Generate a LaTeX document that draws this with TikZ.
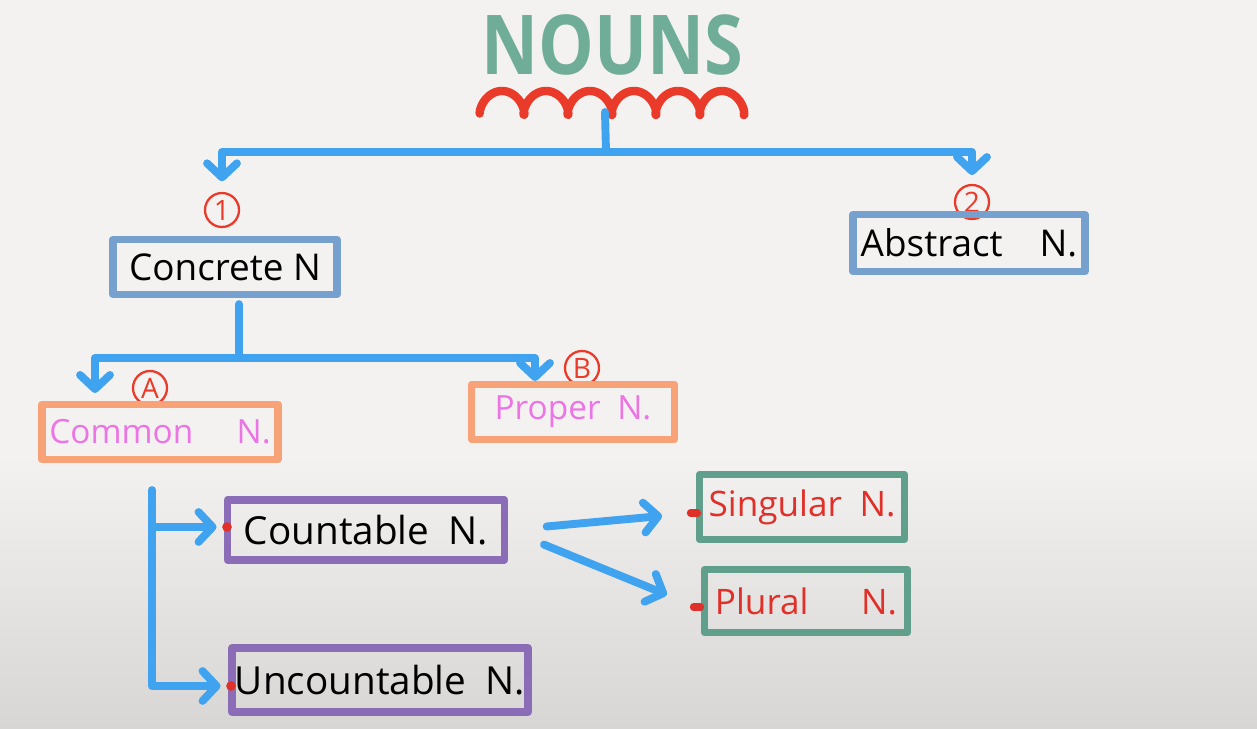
\documentclass[tikz,border=0pt]{standalone}
\usepackage{fontspec}
\usepackage{graphicx}
\setmainfont{Open Sans}
\usetikzlibrary{arrows.meta}
\definecolor{bg}{HTML}{F4F2F0}
\definecolor{bgd}{HTML}{D8D6D4}
\definecolor{tealt}{HTML}{6FAD99}
\definecolor{wavered}{HTML}{EA3A2A}
\definecolor{lblue}{HTML}{3FA3F0}
\definecolor{steel}{HTML}{76A1CE}
\definecolor{orng}{HTML}{F7A277}
\definecolor{mag}{HTML}{EC74E4}
\definecolor{purp}{HTML}{8B6DB7}
\definecolor{grn}{HTML}{5F9F8B}
\definecolor{txtred}{HTML}{E0302A}
\begin{document}
\begin{tikzpicture}[x=0.02cm,y=-0.02cm,
  conn/.style={draw=lblue, line width=4.5pt, line cap=round, line join=round},
  arr/.style={conn, -{Straight Barb[length=8pt,width=17pt,round]}},
  box/.style={draw, line width=4.2pt, inner sep=0pt, line join=round},
  circ/.style={circle, draw=wavered, line width=1.3pt, text=wavered, inner sep=0pt,
    minimum size=0.68cm, font=\fontsize{16}{16}\selectfont},
  reddot/.style={circle, fill=txtred, inner sep=0pt, minimum size=5.5pt},
  reddash/.style={rectangle, rounded corners=2pt, fill=txtred, inner sep=0pt, minimum width=8pt, minimum height=4.5pt}
]
% background
\fill[bg] (0,0) rectangle (1257,729);
\shade[top color=bg, bottom color=bgd] (0,455) rectangle (1257,729);
\useasboundingbox (0,0) rectangle (1257,729);

% title
\node[text=tealt, font=\fontsize{47}{47}\selectfont\bfseries] (title) at (612,45) {\scalebox{0.85}[1]{NOUNS}};
\draw[wavered, line width=4.8pt, line cap=round, line join=round]
  plot[domain=0.5:37.9, samples=400, variable=\t] ({480 + 7*\t - 8*sin(\t r)}, {103 + 12*cos(\t r)});
\coordinate (w) at (605,112);
\coordinate (j1) at (606,152);

% level 1
\node[circ] (c1) at (222,210) {1};
\node[circ] (c2) at (972,202) {2};
\node[box, draw=steel, minimum width=4.48cm, minimum height=1.10cm,
  font=\fontsize{21}{21}\selectfont] (concrete) at (225,267) {Concrete N};
\node[box, draw=steel, minimum width=4.64cm, minimum height=1.14cm,
  font=\fontsize{21}{21}\selectfont] (abstract) at (969,243) {Abstract\quad N.};

\draw[conn] (w) -- (j1);
\draw[arr, shorten >=6pt] (j1) -| (c1);
\draw[arr, shorten >=5pt] (j1) -| (c2);

% level 2
\node[circ] (cA) at (150,388) {A};
\node[circ] (cB) at (582,368) {B};
\node[box, draw=orng, text=mag, minimum width=4.72cm, minimum height=1.10cm,
  font=\fontsize{19}{19}\selectfont] (common) at (160,432) {Common\hspace{1.3em}N.};
\node[box, draw=orng, text=mag, minimum width=4.06cm, minimum height=1.10cm,
  font=\fontsize{19}{19}\selectfont] (proper) at (573,412) {Proper\enspace N.};
\coordinate (j2) at (239,358);
\coordinate (aA) at (95,393);
\coordinate (aB) at (535,381);
\draw[conn] (j2 |- concrete.south) ++(0,6) -- (j2);
\draw[arr] (j2) -| (aA);
\draw[arr] (j2) -| (aB);

% level 3
\node[box, draw=purp, minimum width=5.54cm, minimum height=1.20cm,
  font=\fontsize{22}{22}\selectfont] (countable) at (366,530) {Countable\enspace N.};
\node[box, draw=purp, minimum width=5.92cm, minimum height=1.28cm,
  font=\fontsize{22}{22}\selectfont] (uncountable) at (380,680) {Uncountable\enspace N.};
\node[reddot] (cdot) at (227,527) {};
\node[reddot] (udot) at (231,686) {};
\coordinate (j3) at (152,490);
\draw[arr, shorten >=3pt] (j3) |- (udot);
\draw[arr, shorten >=3pt] (cdot -| j3) -- (cdot);

% level 4
\node[box, draw=grn, text=txtred, minimum width=4.10cm, minimum height=1.30cm,
  font=\fontsize{20}{20}\selectfont] (singular) at (802,507) {Singular\enspace N.};
\node[box, draw=grn, text=txtred, minimum width=4.06cm, minimum height=1.26cm,
  font=\fontsize{20}{20}\selectfont] (plural) at (806,601) {Plural\hspace{1.5em}N.};
\node[reddash] (sdash) at (694,513) {};
\node[reddash] (pdash) at (697,607) {};
\draw[arr, shorten <=22pt, shorten >=14pt] (countable.east) -- (sdash);
\draw[arr, shorten <=22pt, shorten >=14pt] (countable.east) -- (pdash);
\end{tikzpicture}
\end{document}
